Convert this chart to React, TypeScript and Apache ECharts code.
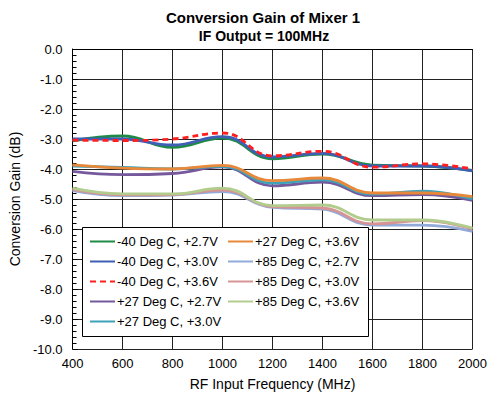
import React, { useEffect, useRef } from "react";
import * as echarts from "echarts";

const frequencies = [400, 600, 800, 1000, 1200, 1400, 1600, 1800, 2000];

const seriesNames = [
  "-40 Deg C, +2.7V",
  "-40 Deg C, +3.0V",
  "-40 Deg C, +3.6V",
  "+27 Deg C, +2.7V",
  "+27 Deg C, +3.0V",
  "+27 Deg C, +3.6V",
  "+85 Deg C, +2.7V",
  "+85 Deg C, +3.0V",
  "+85 Deg C, +3.6V",
];

const m40_27 = [-3.06, -2.9, -3.28, -2.97, -3.66, -3.5, -3.87, -3.9, -4.05];
const m40_30 = [-3.0, -3.0, -3.2, -2.92, -3.6, -3.48, -3.9, -3.9, -4.06];
const m40_36 = [-3.04, -3.05, -3.0, -2.8, -3.56, -3.41, -3.94, -3.83, -4.0];
const p27_27 = [-4.08, -4.19, -4.15, -3.93, -4.56, -4.44, -4.89, -4.85, -5.05];
const p27_30 = [-3.9, -3.95, -4.0, -3.91, -4.47, -4.36, -4.84, -4.74, -5.0];
const p27_36 = [-3.86, -3.97, -4.0, -3.88, -4.39, -4.3, -4.8, -4.8, -4.92];
const p85_27 = [-4.72, -4.89, -4.87, -4.75, -5.28, -5.34, -5.87, -5.87, -6.08];
const p85_30 = [-4.68, -4.86, -4.85, -4.7, -5.25, -5.3, -5.83, -5.72, -6.0];
const p85_36 = [-4.64, -4.83, -4.83, -4.64, -5.22, -5.2, -5.7, -5.7, -5.97];

const seriesValues = [m40_27, m40_30, m40_36, p27_27, p27_30, p27_36, p85_27, p85_30, p85_36];

const colors = [
  "#1f8a45",
  "#3f5fb5",
  "#ff1f1f",
  "#75599c",
  "#3ea2bb",
  "#e8883a",
  "#92aada",
  "#d69494",
  "#b2cc8e",
];

const FONT = "Liberation Sans";

export default function App() {
  const ref = useRef<HTMLDivElement>(null);
  useEffect(() => {
    if (!ref.current) return;
    const chart = echarts.init(ref.current, null, { renderer: "svg" });
    const series = seriesNames.map((name, i) => ({
      name,
      type: "line",
      data: frequencies.map((f, j) => [f, seriesValues[i][j]]),
      smooth: 0.45,
      symbol: "circle",
      showSymbol: false,
      z: i === 2 ? 10 : 3,
      lineStyle: {
        color: colors[i],
        width: 2.8,
        type: i === 2 ? [6, 4] : "solid",
      },
      itemStyle: { color: colors[i] },
    }));
    const legendCommon = {
      orient: "vertical",
      itemWidth: 25,
      itemHeight: 14,
      itemGap: 7,
      itemStyle: { opacity: 0 },
      textStyle: { fontFamily: FONT, fontSize: 13, color: "#000", padding: [0, 0, 0, -3] },
      selectedMode: false,
      padding: 0,
    };
    chart.setOption({
      animation: false,
      textStyle: { fontFamily: FONT },
      title: [
        {
          text: "Conversion Gain of Mixer 1",
          left: 258,
          top: 5,
          textAlign: "center",
          textStyle: { fontFamily: FONT, fontSize: 15, fontWeight: "bold", color: "#000" },
        },
        {
          text: "IF Output = 100MHz",
          left: 259,
          top: 24,
          textAlign: "center",
          textStyle: { fontFamily: FONT, fontSize: 14, fontWeight: "bold", color: "#000" },
        },
      ],
      graphic: [
        {
          type: "rect",
          left: 82,
          top: 227,
          shape: { width: 286, height: 109 },
          style: { fill: "#fff", stroke: "#000", lineWidth: 1 },
          z: 50,
        },
      ],
      legend: [
        { ...legendCommon, data: seriesNames.slice(0, 5), left: 89, top: 235, z: 60 },
        { ...legendCommon, data: seriesNames.slice(5), left: 227, top: 235, z: 60 },
      ],
      grid: { left: 72, right: 15, top: 49, bottom: 49 },
      xAxis: {
        type: "value",
        min: 400,
        max: 2000,
        interval: 200,
        name: "RF Input Frequency (MHz)",
        nameLocation: "middle",
        nameGap: 28,
        nameTextStyle: { fontFamily: FONT, fontSize: 14, color: "#000" },
        axisLine: { show: true, lineStyle: { color: "#000", width: 1 } },
        axisTick: { show: false },
        axisLabel: {
          fontFamily: FONT,
          fontSize: 13,
          color: "#000",
          margin: 8,
          formatter: (v: number) => String(v),
        },
        splitLine: { show: true, lineStyle: { color: "#222", width: 1 } },
      },
      yAxis: {
        type: "value",
        min: -10,
        max: 0,
        interval: 1,
        name: "Conversion Gain (dB)",
        nameLocation: "middle",
        nameGap: 50,
        nameTextStyle: { fontFamily: FONT, fontSize: 14, color: "#000" },
        axisLine: { show: true, lineStyle: { color: "#000", width: 1 } },
        axisTick: { show: true, inside: true, length: 5, lineStyle: { color: "#000" } },
        minorTick: { show: true, splitNumber: 5, length: 4, lineStyle: { color: "#000" } },
        axisLabel: {
          fontFamily: FONT,
          fontSize: 13,
          color: "#000",
          margin: 10,
          formatter: (v: number) => v.toFixed(1),
        },
        splitLine: { show: true, lineStyle: { color: "#222", width: 1 } },
      },
      series,
    });
    return () => chart.dispose();
  }, []);
  return (
    <div
      ref={ref}
      style={{ position: "fixed", left: 0, top: 0, width: 490, height: 398, background: "#fff" }}
    />
  );
}
